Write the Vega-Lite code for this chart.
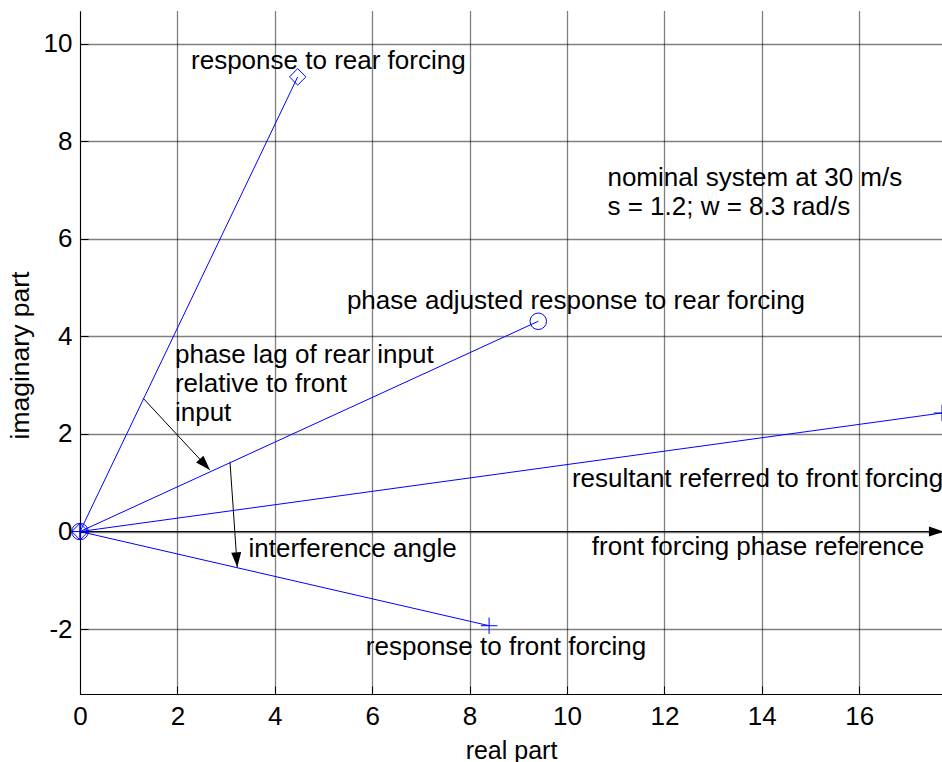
{
  "$schema": "https://vega.github.io/schema/vega-lite/v6.json",
  "width": 862,
  "height": 683,
  "autosize": {"type": "none"},
  "padding": {"left": 80, "top": 11, "right": 0, "bottom": 68},
  "background": "white",
  "config": {
    "view": {"stroke": null},
    "font": "Liberation Sans"
  },
  "datasets": {
    "vectors": [
      {"vector": "response to rear forcing", "re": 4.47, "im": 9.32},
      {"vector": "phase adjusted response to rear forcing", "re": 9.41, "im": 4.31},
      {"vector": "response to front forcing", "re": 8.40, "im": -1.93},
      {"vector": "resultant referred to front forcing", "re": 17.7, "im": 2.43}
    ],
    "arrows": [
      {"arrow": "front forcing phase reference", "re": 0, "im": 0, "re2": 17.74, "im2": 0},
      {"arrow": "phase lag", "re": 1.293, "im": 2.736, "re2": 2.669, "im2": 1.26},
      {"arrow": "interference angle", "re": 3.08, "im": 1.43, "re2": 3.229, "im2": -0.734}
    ],
    "labels": [
      {"label": "response to rear forcing", "re": 2.28, "im": 9.49},
      {"label": "nominal system at 30 m/s", "re": 10.83, "im": 7.08},
      {"label": "s = 1.2; w = 8.3 rad/s", "re": 10.83, "im": 6.49},
      {"label": "phase adjusted response to rear forcing", "re": 5.48, "im": 4.57},
      {"label": "phase lag of rear input", "re": 1.95, "im": 3.45},
      {"label": "relative to front", "re": 1.95, "im": 2.865},
      {"label": "input", "re": 1.95, "im": 2.27},
      {"label": "resultant referred to front forcing", "re": 10.1, "im": 0.906},
      {"label": "interference angle", "re": 3.46, "im": -0.516},
      {"label": "front forcing phase reference", "re": 10.51, "im": -0.48},
      {"label": "response to front forcing", "re": 5.87, "im": -2.53}
    ]
  },
  "encoding": {
    "x": {
      "field": "re",
      "type": "quantitative",
      "scale": {"domain": [0, 17.7], "nice": false, "zero": false},
      "axis": {
        "title": "real part",
        "values": [0, 2, 4, 6, 8, 10, 12, 14, 16],
        "labelExpr": "replace(datum.label, '\u2212', '-')",
        "grid": true,
        "gridColor": "#000000",
        "gridOpacity": 1,
        "gridDash": [1, 1],
        "gridWidth": 1.3,
        "domainColor": "#000000",
        "domainWidth": 1,
        "tickColor": "#000000",
        "tickSize": -8,
        "labelFont": "Liberation Sans",
        "labelFontSize": 26,
        "labelColor": "#000000",
        "labelPadding": 17,
        "labelFlush": false,
        "labelOverlap": false,
        "titleFont": "Liberation Sans",
        "titleFontSize": 25,
        "titleFontWeight": "normal",
        "titleColor": "#000000",
        "titleBaseline": "alphabetic",
        "titleY": 64,
        "titleX": 431
      }
    },
    "y": {
      "field": "im",
      "type": "quantitative",
      "scale": {"domain": [-3.33, 10.67], "nice": false, "zero": false},
      "axis": {
        "title": "imaginary part",
        "values": [-2, 0, 2, 4, 6, 8, 10],
        "labelExpr": "replace(datum.label, '\u2212', '-')",
        "grid": true,
        "gridColor": "#000000",
        "gridOpacity": 1,
        "gridDash": [1, 1],
        "gridWidth": 1.3,
        "domainColor": "#000000",
        "domainWidth": 1,
        "tickColor": "#000000",
        "tickSize": -8,
        "labelFont": "Liberation Sans",
        "labelFontSize": 26,
        "labelColor": "#000000",
        "labelPadding": 16,
        "labelFlush": false,
        "labelOverlap": false,
        "titleFont": "Liberation Sans",
        "titleFontSize": 26.5,
        "titleFontWeight": "normal",
        "titleColor": "#000000",
        "titleAngle": -90,
        "titleAlign": "center",
        "titleBaseline": "alphabetic",
        "titleX": -52,
        "titleY": 344
      }
    }
  },
  "layer": [
    {
      "data": {"name": "arrows"},
      "mark": {"type": "rule", "color": "#000000", "strokeWidth": 1},
      "encoding": {
        "x2": {"field": "re2"},
        "y2": {"field": "im2"}
      }
    },
    {
      "data": {"name": "arrows"},
      "transform": [
        {"calculate": "atan2(datum.im - datum.im2, datum.re2 - datum.re) * 180 / PI", "as": "heading"}
      ],
      "mark": {"type": "point", "shape": "M0,0L-2,-0.667L-2,0.667Z", "filled": true, "color": "#000000", "size": 225, "opacity": 1},
      "encoding": {
        "x": {"field": "re2", "type": "quantitative"},
        "y": {"field": "im2", "type": "quantitative"},
        "angle": {"field": "heading", "type": "quantitative", "scale": null}
      }
    },
    {
      "data": {"name": "vectors"},
      "mark": {"type": "rule", "color": "#0000ff", "strokeWidth": 1},
      "encoding": {
        "x2": {"datum": 0},
        "y2": {"datum": 0}
      }
    },
    {
      "data": {"name": "vectors"},
      "mark": {"type": "point", "filled": false, "color": "#0000ff", "size": 272, "strokeWidth": 1, "opacity": 1},
      "encoding": {
        "shape": {
          "field": "vector",
          "type": "nominal",
          "scale": {
            "domain": ["response to rear forcing", "phase adjusted response to rear forcing", "response to front forcing", "resultant referred to front forcing"],
            "range": ["diamond", "circle", "M-1,0L1,0M0,-1L0,1", "M-1,0L1,0M0,-1L0,1"]
          },
          "legend": null
        }
      }
    },
    {
      "data": {"name": "vectors"},
      "mark": {"type": "point", "filled": false, "color": "#0000ff", "size": 272, "strokeWidth": 1, "opacity": 1},
      "encoding": {
        "x": {"datum": 0, "type": "quantitative"},
        "y": {"datum": 0, "type": "quantitative"},
        "shape": {
          "field": "vector",
          "type": "nominal",
          "scale": {
            "domain": ["response to rear forcing", "phase adjusted response to rear forcing", "response to front forcing", "resultant referred to front forcing"],
            "range": ["diamond", "circle", "M-1,0L1,0M0,-1L0,1", "M-1,0L1,0M0,-1L0,1"]
          },
          "legend": null
        }
      }
    },
    {
      "data": {"name": "labels"},
      "mark": {"type": "text", "align": "left", "baseline": "alphabetic", "font": "Liberation Sans", "fontSize": 26, "color": "#000000"},
      "encoding": {
        "text": {"field": "label"}
      }
    }
  ]
}
